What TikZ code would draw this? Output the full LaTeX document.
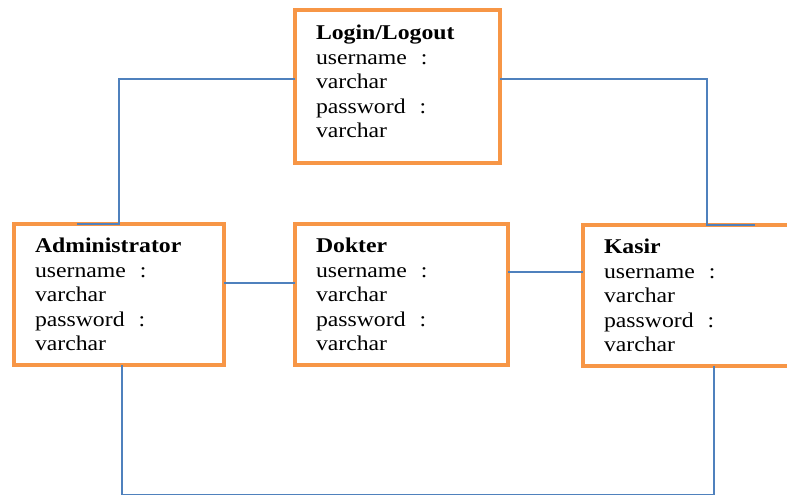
\documentclass[tikz,border=0pt]{standalone}
\usepackage{fontspec}
\setmainfont{Liberation Serif}[FakeStretch=1.13]
\usepackage{tikz}
\usetikzlibrary{calc}
\definecolor{boxorange}{RGB}{247,150,70}
\definecolor{linkblue}{RGB}{79,129,189}

\begin{document}
\begin{tikzpicture}[x=1pt,y=-1pt,
	entity/.style={draw=boxorange, line width=4.5pt, anchor=north west, align=left,
		outer sep=0pt, inner xsep=21pt, inner ysep=0pt, minimum height=141pt,
		font=\fontsize{21}{24.5}\selectfont},
	link/.style={draw=linkblue, line width=1.5pt}]
					\useasboundingbox (0,0) rectangle (787,495);
					\clip (0,0) rectangle (787,495);
					\node[entity, minimum height=153pt, text width=163pt] (login) at (295,10) {\textbf{Login/Logout}\\username~ :\\varchar\\password~ :\\varchar\rule[-10pt]{0pt}{10pt}};
					\node[entity, text width=168pt] (admin) at (14,224) {\textbf{Administrator}\\username~ :\\varchar\\password~ :\\varchar};
					\node[entity, text width=171pt] (dokter) at (295,224) {\textbf{Dokter}\\username~ :\\varchar\\password~ :\\varchar};
					\node[entity, text width=206pt] (kasir) at (583,225) {\textbf{Kasir}\\username~ :\\varchar\\password~ :\\varchar};
					\coordinate (floor) at (0,495);
					\coordinate (adminDrop) at ([xshift=3pt]admin.south);
					\coordinate (kasirDrop) at ([xshift=7pt]kasir.south);
					\draw[link] ([yshift=7.5pt]login.west) -| (admin.north) -- ++(-42,0);
					\draw[link] ([yshift=7.5pt]login.east) -| (kasir.north) -- ++(48,0);
					\draw[link] ([yshift=11.5pt]admin.east) -- ([yshift=11.5pt]dokter.west);
					\draw[link] ([yshift=22.5pt]dokter.east) coordinate (dk) -- (dk -| kasir.west);
					\draw[link] (adminDrop) -- (adminDrop |- floor) -- (kasirDrop |- floor) -- (kasirDrop);
					\end{tikzpicture}
\end{document}
